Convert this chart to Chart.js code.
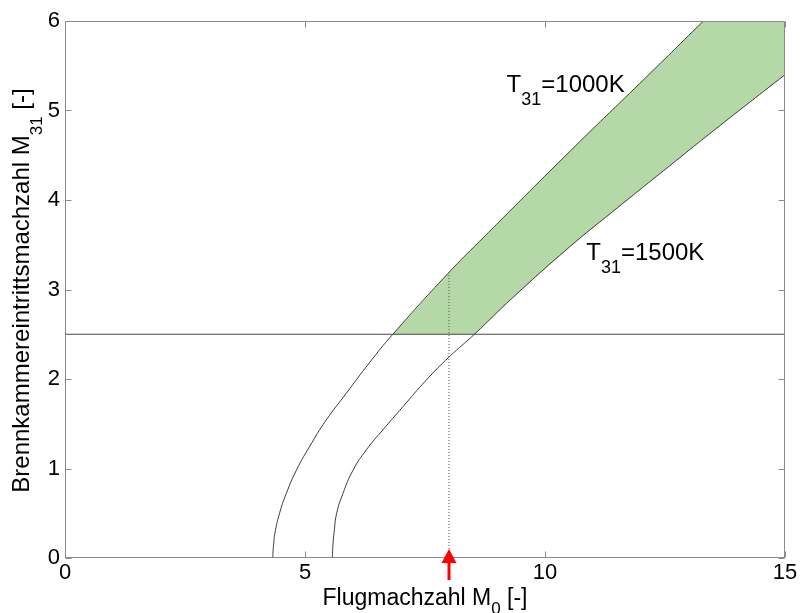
<!DOCTYPE html>
<html><head><meta charset="utf-8">
<script src="https://cdn.jsdelivr.net/npm/chart.js@4"></script>
<style>html,body{margin:0;padding:0;background:#fff}</style>
</head><body>
<canvas id="c" width="800" height="613"></canvas>
<script>
// ---- data ----
const mach0_T1000 = [4.33, 4.335, 4.35, 4.37, 4.47, 4.61, 4.82, 5.09, 5.44, 5.86, 6.34, 6.83, 7.98, 8.64, 10.72, 11.97, 13.30];
const m31_T1000   = [0.00, 0.08,  0.17, 0.27, 0.50, 0.72, 0.98, 1.24, 1.54, 1.84, 2.18, 2.50, 3.18, 3.54, 4.65, 5.30, 6.00];
const mach0_T1500 = [5.57, 5.575, 5.585, 5.605, 5.66, 5.79, 6.00, 6.28, 6.62, 7.04, 7.53, 8.01, 8.53, 9.33, 10.50, 11.41, 12.50, 13.50, 15.00];
const m31_T1500   = [0.00, 0.08,  0.17,  0.28,  0.50, 0.72, 0.98, 1.21, 1.43, 1.69, 1.99, 2.25, 2.50, 2.91, 3.47, 3.87, 4.34, 4.77, 5.40];
const m31Limit = 2.5;            // horizontal limit line
const designMach0 = 8;           // dotted line / red arrow
const designM31Top = 3.19;       // dotted line top (on T31=1000K curve)
const xTicks = [0, 5, 10, 15];
const yTicks = [0, 1, 2, 3, 4, 5, 6];
const curveLabels = [['T', '31', '=1000K'], ['T', '31', '=1500K']];
const xTitleParts = ['Flugmachzahl M', '0', ' [-]'];
const yTitleParts = ['Brennkammereintrittsmachzahl M', '31', ' [-]'];

const FONT = '"Liberation Sans", Arial, Helvetica, sans-serif';
const xMin = xTicks[0], xMax = xTicks[xTicks.length - 1];
const yMin = yTicks[0], yMax = yTicks[yTicks.length - 1];

const pts = (xs, ys) => xs.map((x, i) => ({x, y: ys[i]}));
const c1000 = pts(mach0_T1000, m31_T1000);
const c1500 = pts(mach0_T1500, m31_T1500);
// fill region boundaries (above limit line, between curves)
const cross1000 = c1000.find(p => p.y >= m31Limit);
const upperBound = c1000.filter(p => p.y >= m31Limit).concat([{x: xMax, y: yMax}]);
const lowerBound = [{x: cross1000.x, y: m31Limit}].concat(c1500.filter(p => p.y >= m31Limit));

function drawRich(ctx, parts, x, y, align, mainSize, subSize, subDy) {
  const items = parts.map((t, i) => ({t, sub: i % 2 === 1}));
  let w = 0;
  items.forEach(it => {
    ctx.font = (it.sub ? subSize : mainSize) + 'px ' + FONT;
    it.w = ctx.measureText(it.t).width; w += it.w;
  });
  let cx = align === 'center' ? x - w / 2 : x;
  ctx.textAlign = 'left'; ctx.textBaseline = 'alphabetic'; ctx.fillStyle = '#000';
  items.forEach(it => {
    ctx.font = (it.sub ? subSize : mainSize) + 'px ' + FONT;
    ctx.fillText(it.t, cx, y + (it.sub ? subDy : 0));
    cx += it.w;
  });
}

const decor = {
  id: 'decor',
  afterDraw(chart, args, opts) {
    const ctx = chart.ctx, a = chart.chartArea;
    const xs = chart.scales.x, ys = chart.scales.y;
    ctx.save();
    // frame
    ctx.strokeStyle = '#8a8a8a'; ctx.lineWidth = 1;
    const L = Math.round(a.left) + 0.5, R = Math.round(a.right) - 0.5;
    const T = Math.round(a.top) + 0.5, B = Math.round(a.bottom) - 0.5;
    ctx.strokeRect(L, T, R - L, B - T);
    // inward ticks
    ctx.beginPath();
    xTicks.forEach(v => {
      const px = Math.round(xs.getPixelForValue(v)) + 0.5;
      ctx.moveTo(px, B); ctx.lineTo(px, B - 6);
      ctx.moveTo(px, T); ctx.lineTo(px, T + 6);
    });
    yTicks.forEach(v => {
      const py = Math.round(ys.getPixelForValue(v)) + 0.5;
      ctx.moveTo(L, py); ctx.lineTo(L + 6, py);
      ctx.moveTo(R, py); ctx.lineTo(R - 6, py);
    });
    ctx.stroke();
    // curve labels
    opts.labelAnchors.forEach((an, i) => {
      drawRich(ctx, curveLabels[i], xs.getPixelForValue(an[0]), ys.getPixelForValue(an[1]), 'left', 24, 18, 13);
    });
    // x title
    drawRich(ctx, xTitleParts, (a.left + a.right) / 2, 605, 'center', 23, 17, 9);
    // y title
    ctx.save();
    ctx.translate(29, (a.top + a.bottom) / 2 + 1);
    ctx.rotate(-Math.PI / 2);
    drawRich(ctx, yTitleParts, 0, 0, 'center', 24, 17, 13);
    ctx.restore();
    // red arrow
    const ax = xs.getPixelForValue(designMach0);
    const tip = a.bottom - 9;
    ctx.fillStyle = '#ff0000';
    ctx.beginPath();
    ctx.moveTo(ax, tip); ctx.lineTo(ax - 7.5, tip + 14); ctx.lineTo(ax + 7.5, tip + 14); ctx.closePath();
    ctx.fill();
    ctx.fillRect(ax - 1.5, tip + 13, 3, 18);
    ctx.restore();
  }
};

const lineDs = (data, extra) => Object.assign({
  data, pointRadius: 0, pointHoverRadius: 0, fill: false, tension: 0,
  borderWidth: 1, borderColor: '#3a3a3a'
}, extra);

new Chart(document.getElementById('c'), {
  type: 'line',
  data: {
    datasets: [
      lineDs(c1000, {label: 'T31=1000K', tension: 0.5}),
      lineDs(c1500, {label: 'T31=1500K', tension: 0.5}),
      lineDs([{x: xMin, y: m31Limit}, {x: xMax, y: m31Limit}], {borderColor: '#4a4a4a'}),
      lineDs([{x: designMach0, y: yMin}, {x: designMach0, y: designM31Top}], {borderColor: '#555', borderDash: [1, 2]}),
      lineDs(upperBound, {borderWidth: 0, borderColor: 'rgba(0,0,0,0)', fill: '+1', backgroundColor: 'rgb(180,216,166)'}),
      lineDs(lowerBound, {borderWidth: 0, borderColor: 'rgba(0,0,0,0)'})
    ]
  },
  options: {
    responsive: false, animation: false, devicePixelRatio: 1,
    layout: {padding: {left: 0, right: 15, top: 21, bottom: 0}},
    plugins: {
      legend: {display: false}, tooltip: {enabled: false},
      decor: {labelAnchors: [[9.20, 5.21], [10.86, 3.33]]}
    },
    scales: {
      x: {
        type: 'linear', min: xMin, max: xMax,
        afterBuildTicks: s => { s.ticks = xTicks.map(v => ({value: v})); },
        afterFit: s => { s.height = 55; },
        grid: {display: false, drawTicks: false}, border: {display: false},
        ticks: {color: '#000', font: {family: FONT, size: 22}, padding: 2, maxRotation: 0}
      },
      y: {
        type: 'linear', min: yMin, max: yMax,
        afterBuildTicks: s => { s.ticks = yTicks.map(v => ({value: v})); },
        afterFit: s => { s.width = 65; },
        grid: {display: false, drawTicks: false}, border: {display: false},
        ticks: {color: '#000', font: {family: FONT, size: 22}, padding: 5}
      }
    }
  },
  plugins: [decor]
});
</script>
</body></html>
